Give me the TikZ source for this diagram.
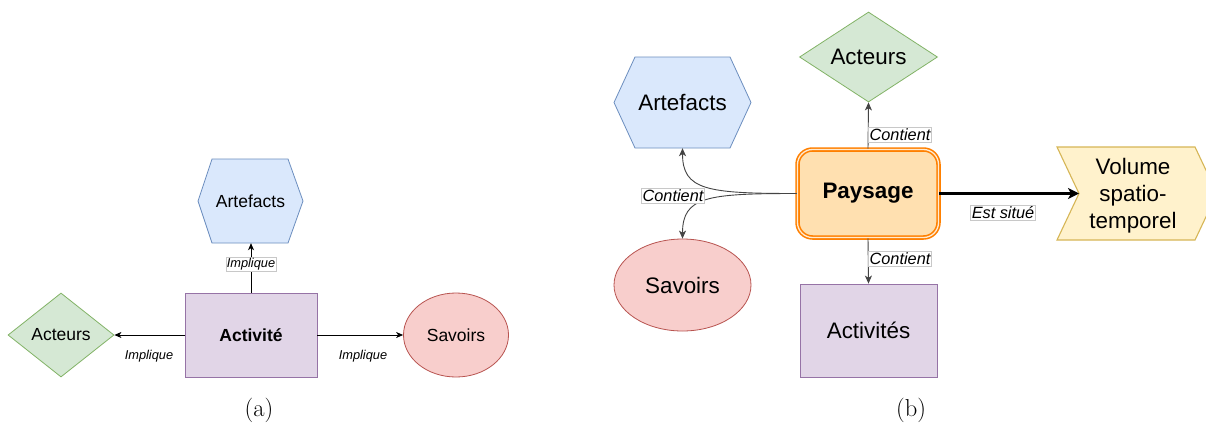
\documentclass[tikz,border=0pt]{standalone}
\usepackage{fontspec}
\newfontfamily\arial{Liberation Sans}
\usetikzlibrary{arrows.meta,shapes.geometric}
\definecolor{bluef}{HTML}{DAE8FC}\definecolor{blued}{HTML}{6C8EBF}
\definecolor{greenf}{HTML}{D5E8D4}\definecolor{greend}{HTML}{82B366}
\definecolor{redf}{HTML}{F8CECC}\definecolor{redd}{HTML}{B85450}
\definecolor{purpf}{HTML}{E1D5E7}\definecolor{purpd}{HTML}{9673A6}
\definecolor{yelf}{HTML}{FFF2CC}\definecolor{yeld}{HTML}{D6B656}
\definecolor{orf}{HTML}{FFE0B0}\definecolor{ord}{HTML}{FF8000}\definecolor{orm}{HTML}{FFEBD2}
\definecolor{lineg}{HTML}{444444}\definecolor{lblb}{HTML}{C8C8C8}
\begin{document}
\begin{tikzpicture}[x=1pt,y=-1pt,
  txtA/.style={font=\arial\fontsize{17.5}{21}\selectfont, align=center, inner sep=0pt},
  txtB/.style={font=\arial\fontsize{22.4}{27}\selectfont, align=center, inner sep=0pt},
  shp/.style={line width=0.8pt},
  elabA/.style={font=\arial\itshape\fontsize{12.8}{15}\selectfont, inner sep=1pt, fill=white},
  elabB/.style={font=\arial\itshape\fontsize{16.3}{19}\selectfont, inner sep=1.3pt, fill=white},
  boxed/.style={draw=lblb, line width=0.5pt},
  arrA/.style={line width=0.8pt, -{Stealth[length=7pt,width=6pt,inset=2pt]}},
  arrB/.style={line width=0.9pt, draw=lineg, -{Stealth[length=8pt,width=7pt,inset=2.2pt]}},
  arrT/.style={line width=2.4pt, -{Stealth[length=11pt,width=11pt,inset=3pt]}},
  captxt/.style={font=\fontsize{24.5}{29}\selectfont, inner sep=0pt}
]
\clip (0,0) rectangle (1206,426);
\fill[white] (0,0) rectangle (1206,426);

% ---------------- (a) ----------------
\path[shp, fill=bluef, draw=blued] (198,201) -- (212,159) -- (288,159) -- (303,201) -- (288,243) -- (212,243) -- cycle;
\node[txtA, minimum width=105pt, minimum height=84pt] (artA) at (250.5,201) {Artefacts};
\node[txtA, shp, draw=purpd, fill=purpf, minimum width=132pt, minimum height=84pt] (actA) at (251,335) {\bfseries Activité};
\node[txtA, shp, diamond, aspect=1.26, draw=greend, fill=greenf, minimum width=106pt, minimum height=84pt] (actrA) at (61,335) {Acteurs};
\node[txtA, shp, ellipse, draw=redd, fill=redf, minimum width=105pt, minimum height=84pt] (savA) at (456,335) {Savoirs};

\draw[arrA] (actA.north) -- (actA.north |- artA.south)
  node[pos=0.58, elabA, boxed] {Implique};
\draw[arrA] (actA.west) -- (actrA.east);
\node[elabA, fill=none] (lA1) at (149,356) {Implique};
\draw[arrA] (actA.east) -- (savA.west);
\node[elabA, fill=none] (lA2) at (363,356) {Implique};

\node[captxt] (capa) at (259,410) {(a)};

% ---------------- (b) ----------------
\path[shp, fill=bluef, draw=blued] (614,102.5) -- (635,57) -- (730,57) -- (751,102.5) -- (730,148) -- (635,148) -- cycle;
\node[txtB, minimum width=137pt, minimum height=91pt] (artB) at (682.5,102.5) {Artefacts};
\node[txtB, shp, diamond, aspect=1.53, draw=greend, fill=greenf, minimum width=138pt, minimum height=90pt] (actrB) at (868.5,57) {Acteurs};
\node[txtB, line width=1.6pt, draw=ord, double=orm, double distance=1.3pt, fill=orf, rounded corners=15pt, minimum width=141pt, minimum height=88pt] (pay) at (868,193.5) {\bfseries Paysage};
\node[txtB, shp, ellipse, draw=redd, fill=redf, minimum width=137pt, minimum height=92pt] (savB) at (682.5,285) {Savoirs};
\node[txtB, shp, draw=purpd, fill=purpf, minimum width=137pt, minimum height=93pt] (actB) at (868.5,330.5) {Activités};
\path[shp, line width=1.1pt, fill=yelf, draw=yeld] (1057,147) -- (1195,147) -- (1217,193.5) -- (1195,240) -- (1057,240) -- (1079,193.5) -- cycle;
\node[txtB] (vol) at (1133,195.5) {Volume\\spatio-\\temporel};
\coordinate (volin) at (1079,193.5);

\draw[arrB] (pay.north) -- (actrB.south);
\node[elabB, boxed] (lB1) at (900,134.5) {Contient};
\draw[arrB] (pay.south) -- (actB.north);
\node[elabB, boxed] (lB2) at (900,259) {Contient};
\draw[arrB] (pay.west) .. controls +(-90,0) and +(0,42) .. (artB.south);
\draw[arrB] (pay.west) .. controls +(-90,0) and +(0,-42) .. (savB.north);
\node[elabB, boxed] (lB3) at (673,195.5) {Contient};
\draw[arrT] (pay.east) -- (volin);
\node[elabB, boxed] (lB4) at (1003,212.5) {Est situé};

\node[captxt] (capb) at (911,410) {(b)};
\end{tikzpicture}
\end{document}
